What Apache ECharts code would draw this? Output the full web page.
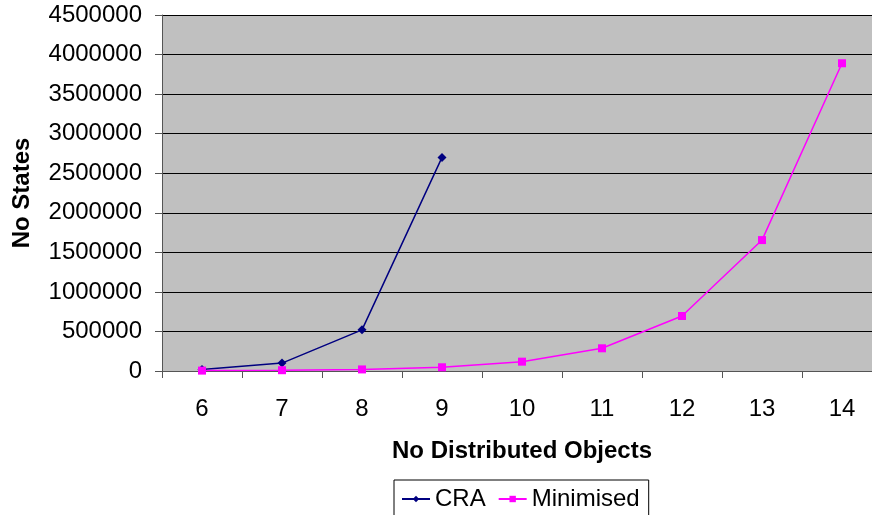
<!DOCTYPE html>
<html>
<head>
<meta charset="utf-8">
<script src="https://cdn.jsdelivr.net/npm/echarts@6/dist/echarts.min.js"></script>
<style>
  html, body { margin: 0; padding: 0; background: #fff; overflow: hidden; }
  /* plot area runs a little past the right edge of the window, as in the original */
  #chart { width: 882px; height: 515px; }
</style>
</head>
<body>
<div id="chart"></div>
<script>
// data
var categories = ['6', '7', '8', '9', '10', '11', '12', '13', '14'];
var craValues = [20000, 100000, 520000, 2700000];
var minimisedValues = [5000, 10000, 20000, 47000, 118000, 287000, 695000, 1655000, 3890000];

var chart = echarts.init(document.getElementById('chart'));
var font = 'Liberation Sans, Arial, sans-serif';

chart.setOption({
  animation: false,
  textStyle: { fontFamily: font },
  grid: {
    left: 162, right: 0, top: 15, bottom: 144,
    show: true, backgroundColor: '#C0C0C0', borderWidth: 0
  },
  legend: {
    top: 480, left: 394,
    itemGap: 12, itemWidth: 28, itemHeight: 8,
    padding: [7, 9, 6, 7],
    borderColor: '#000', borderWidth: 1,
    textStyle: { fontSize: 24, color: '#000', fontFamily: font },
    data: ['CRA', 'Minimised']
  },
  xAxis: {
    type: 'category',
    data: categories,
    boundaryGap: true,
    name: 'No Distributed Objects',
    nameLocation: 'middle',
    nameGap: 68,
    nameTextStyle: { fontSize: 24, fontWeight: 'bold', color: '#000' },
    axisLine: { lineStyle: { color: '#555', width: 1 } },
    axisTick: { show: true, length: 7, lineStyle: { color: '#555' } },
    axisLabel: { fontSize: 24, color: '#000', margin: 26 },
    splitLine: { show: false }
  },
  yAxis: {
    type: 'value',
    min: 0, max: 4500000, interval: 500000,
    name: 'No States',
    nameLocation: 'middle',
    nameGap: 128,
    nameTextStyle: { fontSize: 24, fontWeight: 'bold', color: '#000' },
    axisLine: { show: true, lineStyle: { color: '#555', width: 1 } },
    axisTick: { show: true, length: 7, lineStyle: { color: '#555' } },
    axisLabel: {
      fontSize: 24, color: '#000', margin: 20,
      formatter: function (v) { return String(v); }
    },
    splitLine: { show: true, lineStyle: { color: '#000', width: 1 } }
  },
  series: [
    {
      name: 'CRA',
      type: 'line',
      data: craValues,
      symbol: 'diamond',
      symbolSize: 9,
      color: '#000080',
      lineStyle: { color: '#000080', width: 1.5 },
      itemStyle: { color: '#000080' }
    },
    {
      name: 'Minimised',
      type: 'line',
      data: minimisedValues,
      symbol: 'rect',
      symbolSize: 8,
      color: '#FF00FF',
      lineStyle: { color: '#FF00FF', width: 1.5 },
      itemStyle: { color: '#FF00FF' }
    }
  ]
});
</script>
</body>
</html>
